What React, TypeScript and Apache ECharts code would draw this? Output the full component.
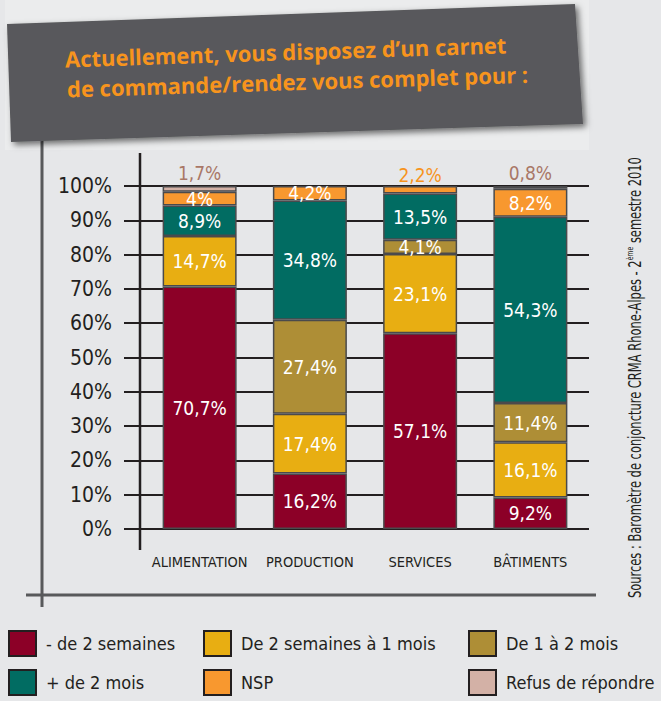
import React, { useEffect, useRef } from "react";
import * as echarts from "echarts";

const categories = ["ALIMENTATION", "PRODUCTION", "SERVICES", "BÂTIMENTS"];
const seriesNames = [
  "- de 2 semaines",
  "De 2 semaines à 1 mois",
  "De 1 à 2 mois",
  "+ de 2 mois",
  "NSP",
  "Refus de répondre",
];
const lessThan2Weeks = [70.7, 16.2, 57.1, 9.2];
const twoWeeksTo1Month = [14.7, 17.4, 23.1, 16.1];
const oneTo2Months = [null, 27.4, 4.1, 11.4];
const moreThan2Months = [8.9, 34.8, 13.5, 54.3];
const nsp = [4, 4.2, 2.2, 8.2];
const refusal = [1.7, null, null, 0.8];
const yMin = 0;
const yMax = 100;
const yStep = 10;

const titleLines = [
  "Actuellement, vous disposez d\u2019un carnet",
  "de commande/rendez vous complet pour :",
];
const sourceText =
  "Sources : Baromètre de conjoncture CRMA Rhone-Alpes - 2{sup|ème} semestre 2010";

const COLORS = ["#8c0027", "#e8ae12", "#ae8e36", "#016c62", "#f8982f", "#d3b1a6"];
const NARROW = "'DejaVu Sans Condensed', 'Liberation Sans Narrow', sans-serif";
const DARK = "#231f20";

const fmt = (v: number) => String(v).replace(".", ",") + "%";

export default function App() {
  const ref = useRef<HTMLDivElement>(null);
  useEffect(() => {
    if (!ref.current) return;
    const chart = echarts.init(ref.current, undefined, { renderer: "svg" });
    const values = [lessThan2Weeks, twoWeeksTo1Month, oneTo2Months, moreThan2Months, nsp, refusal];

    const series = values.map((arr, si) => ({
      name: seriesNames[si],
      type: "bar",
      stack: "total",
      xAxisIndex: 0,
      yAxisIndex: 0,
      barWidth: 74,
      itemStyle: { color: COLORS[si], borderColor: "#4a4a4c", borderWidth: 1.5 },
      label: {
        show: true,
        position: si === 5 ? "top" : "inside",
        distance: si === 5 ? 4 : 5,
        color: si === 5 ? "#a97767" : "#ffffff",
        fontFamily: NARROW,
        fontSize: 19,
        formatter: (p: any) => fmt(p.value),
      },
      data: arr.map((v, ci) => {
        if (v === null) return "-";
        if (si === 4 && ci === 2) {
          return {
            value: v,
            label: { position: "top", color: "#f7941d", distance: 2 },
          };
        }
        return v;
      }),
    }));

    chart.setOption({
      animation: false,
      backgroundColor: "#e6e7e9",
      grid: [
        { left: 144.5, right: 75.5, top: 186, bottom: 172 },
        { left: 124, right: 72, top: 186, bottom: 172 },
      ],
      xAxis: [
        {
          type: "category",
          gridIndex: 0,
          data: categories,
          axisLine: { show: false },
          axisTick: { show: false },
          axisLabel: {
            color: DARK,
            fontFamily: NARROW,
            fontSize: 14.5,
            margin: 25,
            interval: 0,
          },
        },
        { type: "value", gridIndex: 1, show: false, min: 0, max: 1 },
      ],
      yAxis: [
        { type: "value", gridIndex: 0, min: yMin, max: yMax, interval: yStep, show: false },
        {
          type: "value",
          gridIndex: 1,
          min: yMin,
          max: yMax,
          interval: yStep,
          axisLine: { show: false },
          axisTick: { show: false },
          axisLabel: {
            formatter: "{value}%",
            color: DARK,
            fontFamily: NARROW,
            fontSize: 21,
            margin: 12,
          },
          splitLine: { show: true, lineStyle: { color: DARK, width: 2 } },
        },
      ],
      legend: seriesNames.map((n, i) => ({
        data: [n],
        left: [8, 203, 468, 8, 203, 468][i],
        top: i < 3 ? 630 : 669,
        padding: 0,
        itemWidth: 27,
        itemHeight: 25,
        icon: "rect",
        selectedMode: false,
        itemStyle: { borderColor: DARK, borderWidth: 2 },
        textStyle: { color: DARK, fontFamily: NARROW, fontSize: 18, padding: [0, 0, 0, 5] },
      })),
      graphic: [
        {
          type: "rect",
          shape: { x: 5, y: 0, width: 584, height: 150 },
          style: { fill: "#ebeced" },
          z: -1,
        },
        {
          type: "polygon",
          shape: { points: [[7, 24], [575, 4], [583, 124], [11, 142]] },
          style: {
            fill: "#58595b",
            shadowBlur: 6,
            shadowOffsetX: 3,
            shadowOffsetY: 3,
            shadowColor: "rgba(0,0,0,0.55)",
          },
          z: 1,
        },
        ...titleLines.map((t, i) => ({
          type: "text",
          x: 65 + i * 2,
          y: 59 + i * 30,
          rotation: 0.032,
          z: 5,
          style: {
            text: t,
            fill: "#f7941d",
            font: "bold 22px 'Open Sans', sans-serif",
            textAlign: "left",
            textVerticalAlign: "middle",
          },
        })),
        {
          type: "line",
          shape: { x1: 42, y1: 140, x2: 42, y2: 607 },
          style: { stroke: "#58595b", lineWidth: 3 },
          z: 0,
        },
        {
          type: "line",
          shape: { x1: 26, y1: 595, x2: 596, y2: 595 },
          style: { stroke: "#58595b", lineWidth: 3 },
          z: 0,
        },
        {
          type: "line",
          shape: { x1: 140, y1: 153, x2: 140, y2: 550 },
          style: { stroke: DARK, lineWidth: 2.5 },
          z: 0,
        },
        {
          type: "text",
          x: 635,
          y: 598,
          rotation: Math.PI / 2,
          scaleX: 0.75,
          style: {
            text: sourceText,
            fill: DARK,
            font: "17px " + NARROW,
            textAlign: "left",
            textVerticalAlign: "middle",
            rich: {
              sup: { fontSize: 9, fontFamily: NARROW, fill: DARK, verticalAlign: "top", lineHeight: 18 },
            },
          },
        },
      ],
      series,
    });
    return () => chart.dispose();
  }, []);
  return (
    <div
      ref={ref}
      style={{ position: "absolute", left: 0, top: 0, width: 661, height: 701 }}
    />
  );
}
